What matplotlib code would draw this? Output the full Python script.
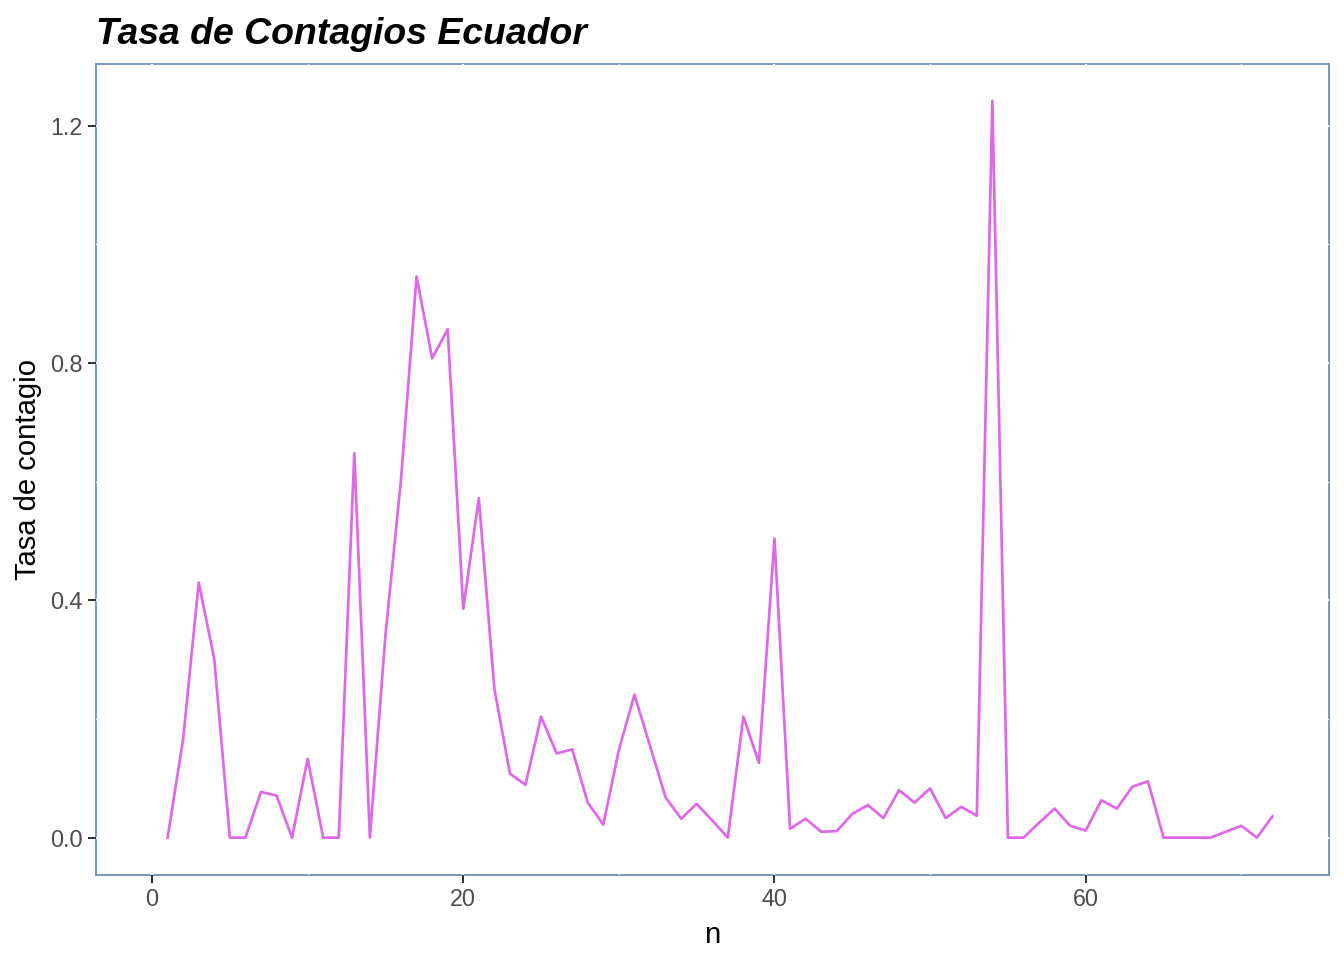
import numpy as np
import matplotlib
matplotlib.use("Agg")
import matplotlib.pyplot as plt
from matplotlib.ticker import MultipleLocator, FormatStrFormatter

plt.rcParams['font.family'] = ['Liberation Sans', 'DejaVu Sans']

# tasa de contagio por dia (n = 0 no tiene tasa)
n = list(range(0, 73))
tasa = [np.nan,
        0.000, 0.166, 0.430, 0.301, 0.000, 0.000, 0.077, 0.071, 0.000, 0.133,
        0.000, 0.000, 0.648, 0.000, 0.341, 0.604, 0.946, 0.808, 0.857, 0.386,
        0.572, 0.251, 0.108, 0.089, 0.204, 0.142, 0.149, 0.059, 0.022, 0.148,
        0.241, 0.155, 0.068, 0.032, 0.057, 0.029, 0.000, 0.204, 0.126, 0.504,
        0.015, 0.032, 0.010, 0.011, 0.040, 0.055, 0.033, 0.080, 0.059, 0.083,
        0.033, 0.052, 0.037, 1.242, 0.000, 0.000, 0.025, 0.049, 0.020, 0.012,
        0.063, 0.049, 0.086, 0.095, 0.000, 0.000, 0.000, 0.000, 0.010, 0.020,
        0.000, 0.036]

x = np.array(n, dtype=float)
y = np.array(tasa, dtype=float)

fig = plt.figure(figsize=(1344 / 144, 960 / 144), dpi=144)
ax = fig.add_axes([96 / 1344, 1 - 874.5 / 960, (1328.5 - 96) / 1344, (874.5 - 64) / 960])

ax.plot(x, y, color='#E066EA', lw=1.35, zorder=3)

# limites tipo ggplot (expansion 5%)
xr = x.max() - x.min()
ax.set_xlim(x.min() - 0.05 * xr, x.max() + 0.05 * xr)
ymin, ymax = np.nanmin(y), np.nanmax(y)
yr = ymax - ymin
ax.set_ylim(ymin - 0.05 * yr, ymax + 0.05 * yr)

ax.xaxis.set_major_locator(MultipleLocator(20))
ax.xaxis.set_minor_locator(MultipleLocator(10))
ax.yaxis.set_major_locator(MultipleLocator(0.4))
ax.yaxis.set_minor_locator(MultipleLocator(0.2))
ax.yaxis.set_major_formatter(FormatStrFormatter('%.1f'))

ax.set_axisbelow(True)
ax.grid(which='major', color='white', lw=1.1)
ax.grid(which='minor', color='white', lw=0.55)
for s in ax.spines.values():
    s.set_color('#6C8EBB')
    s.set_linewidth(0.9)
    s.set_zorder(0.3)

ax.tick_params(which='major', length=3.8, width=1.0, color='#333333',
               labelsize=11.7, labelcolor='#4D4D4D', pad=3)
ax.tick_params(which='minor', length=0)

ax.set_xlabel('n', fontsize=14.6, color='black', labelpad=5)
ax.set_ylabel('Tasa de contagio', fontsize=14.6, color='black', labelpad=4)
ax.set_title('Tasa de Contagios Ecuador', loc='left', fontsize=18.7,
             fontweight='bold', fontstyle='italic', pad=10)

fig.savefig('out.png', dpi=144)
